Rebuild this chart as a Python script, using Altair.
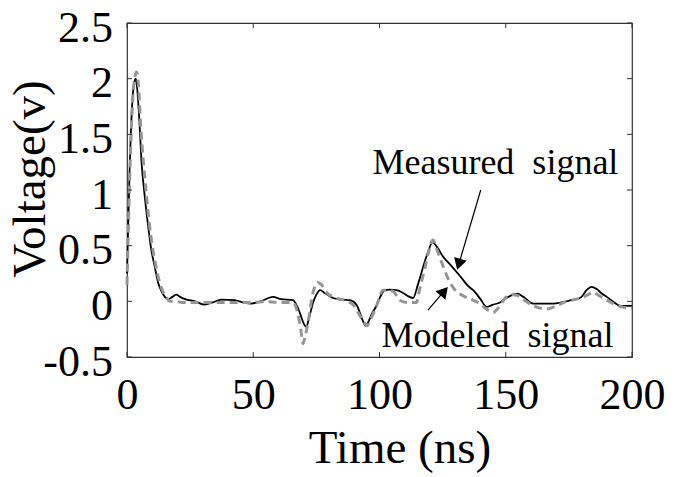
import altair as alt
import pandas as pd

# ---- data ----
meas_t = [0, 1, 2, 3, 3.5, 4, 5, 5.7, 7, 8.4, 9.5, 11, 12.3, 13.7, 15, 16.3, 18, 19.5, 21, 23,
          27, 30.7, 34, 37.3, 42.6, 46, 49.2, 53, 57.8, 61, 65.7, 67.5, 68.4, 70, 71, 72, 73.7,
          75, 76.5, 78, 81.6, 85, 88.2, 90.9, 92.2, 93.5, 94.5, 95.5, 96.8, 98.8, 100.5, 102.1,
          104, 106.7, 109, 111, 113.3, 115.2, 117.3, 119, 121, 123, 125.2, 128, 131.8, 135,
          137.1, 140, 142.4, 145, 147.7, 150.3, 152.9, 154.5, 157, 160.9, 165, 168.8, 172, 176,
          178.1, 180, 182, 184, 186, 188, 190, 193, 195.3, 198, 200]
meas_v = [0.25, 1.15, 1.75, 1.98, 2.0, 1.92, 1.58, 1.27, 0.95, 0.67, 0.48, 0.31, 0.17, 0.09, 0.04,
          0.02, 0.04, 0.06, 0.04, 0.02, 0.0, -0.03, -0.01, 0.015, 0.01, -0.01, -0.02, 0.0, 0.04,
          0.02, 0.01, -0.05, -0.10, -0.20, -0.23, -0.16, -0.01, 0.06, 0.10, 0.08, 0.03, 0.015,
          0.01, -0.03, -0.10, -0.18, -0.22, -0.19, -0.12, -0.04, 0.05, 0.10, 0.105, 0.10, 0.08,
          0.05, 0.03, 0.15, 0.31, 0.43, 0.53, 0.48, 0.40, 0.33, 0.23, 0.14, 0.10, 0.02, -0.05,
          -0.03, -0.01, 0.03, 0.06, 0.07, 0.04, -0.02, -0.02, -0.02, -0.01, 0.01, 0.02, 0.04,
          0.10, 0.13, 0.11, 0.07, 0.04, -0.01, -0.04, -0.04, -0.04]

model_t = [0, 1, 2, 3, 3.8, 4.5, 5.5, 6.3, 7.5, 8.8, 10, 11.5, 12.8, 14, 15.5, 17, 19, 22, 26,
           30, 35, 40, 45, 50, 55, 60, 65, 66.5, 68, 69, 69.7, 70.5, 71.7, 73.7, 75.6, 77, 79,
           83, 87.5, 90, 92, 93.5, 95, 96.5, 98.8, 101.4, 103, 105.4, 108, 111, 114.6, 116,
           117.9, 119.5, 121.2, 122.5, 124.6, 127.9, 130, 133.1, 136, 139.7, 142.4, 145, 147,
           150.3, 153, 155, 158, 162, 166.2, 170, 174, 178, 181, 184.7, 187, 190, 192.6, 196,
           199.2, 200]
model_v = [0.15, 1.05, 1.7, 2.0, 2.06, 1.95, 1.55, 1.3, 1.0, 0.7, 0.5, 0.31, 0.18, 0.10, 0.04,
           0.0, 0.0, -0.01, -0.01, -0.01, -0.01, -0.01, -0.01, -0.01, 0.0, -0.01, -0.01, -0.03,
           -0.15, -0.28, -0.38, -0.32, -0.19, 0.08, 0.17, 0.15, 0.08, 0.03, 0.0, -0.04, -0.12,
           -0.17, -0.22, -0.16, -0.04, 0.10, 0.10, 0.09, 0.01, -0.01, -0.01, 0.12, 0.29, 0.45,
           0.55, 0.48, 0.35, 0.17, 0.10, 0.05, 0.02, -0.02, -0.07, -0.10, -0.06, 0.04, 0.06,
           0.05, 0.0, -0.05, -0.07, -0.04, 0.0, 0.02, 0.04, 0.08, 0.05, 0.01, -0.02, -0.05,
           -0.06, -0.06]

x_ticks = [0, 50, 100, 150, 200]
y_ticks = [-0.5, 0, 0.5, 1, 1.5, 2, 2.5]

ann_text = ["Measured\u00a0\u00a0signal", "Modeled\u00a0\u00a0signal"]
ann_x = [145.9, 146.7]
ann_y = [1.143, -0.408]

arrow_x1 = [140.1, 119.2]
arrow_y1 = [1.0, -0.078]
arrow_x2 = [131.4, 125.6]
arrow_y2 = [0.333, 0.091]
arrow_angle = [196.5, 40.6]

# ---- chart ----
W, H = 505, 334
FONT = "Liberation Serif"

xs = alt.Scale(domain=[0, 200], nice=False, zero=False)
ys = alt.Scale(domain=[-0.5, 2.5], nice=False, zero=False)

meas_df = pd.DataFrame({"t": meas_t, "v": meas_v})
model_df = pd.DataFrame({"t": model_t, "v": model_v})

x_axis = alt.Axis(values=x_ticks, title="Time (ns)", labelExpr="'' + datum.value",
                  labelFont=FONT, labelFontSize=44, labelColor="black",
                  titleFont=FONT, titleFontSize=47, titleFontWeight="normal", titleColor="black",
                  ticks=False, domain=False, grid=False, labelPadding=16,
                  labelFlush=False, labelOverlap=False,
                  titleX=272.5, titleY=105, titleBaseline="alphabetic")
y_axis = alt.Axis(values=y_ticks, title="Voltage(v)", labelExpr="'' + datum.value",
                  labelFont=FONT, labelFontSize=44, labelColor="black",
                  titleFont=FONT, titleFontSize=47, titleFontWeight="normal", titleColor="black",
                  ticks=False, domain=False, grid=False, labelPadding=14.5, labelOffset=5,
                  labelFlush=False, labelOverlap=False, labelBaseline="middle",
                  titleX=-83, titleY=155.5, titleBaseline="alphabetic", titleAngle=270)


def X(field):
    return alt.X(field, scale=xs, axis=x_axis)


def Y(field):
    return alt.Y(field, scale=ys, axis=y_axis)


measured = alt.Chart(meas_df).mark_line(color="black", strokeWidth=1.8, interpolate="monotone").encode(
    x=X("t:Q"), y=Y("v:Q"),
)
modeled = alt.Chart(model_df).mark_line(color="#959595", strokeWidth=3, strokeDash=[8, 5],
                                         interpolate="monotone").encode(
    x=X("t:Q"), y=Y("v:Q"),
)

xt = pd.DataFrame({"x": x_ticks})
yt = pd.DataFrame({"y": y_ticks})
tick_style = dict(color="#333333", strokeWidth=1)
tb = alt.Chart(xt).mark_rule(**tick_style).encode(
    x=X("x:Q"), y=alt.value(H), y2=alt.value(H - 5))
tt = alt.Chart(xt).mark_rule(**tick_style).encode(
    x=X("x:Q"), y=alt.value(0), y2=alt.value(5))
tl = alt.Chart(yt).mark_rule(**tick_style).encode(
    y=Y("y:Q"), x=alt.value(0), x2=alt.value(5))
tr = alt.Chart(yt).mark_rule(**tick_style).encode(
    y=Y("y:Q"), x=alt.value(W), x2=alt.value(W - 5))

ann_df = pd.DataFrame({"text": ann_text, "x": ann_x, "y": ann_y})
texts = alt.Chart(ann_df).mark_text(font=FONT, fontSize=36, align="center",
                                    baseline="alphabetic", color="black").encode(
    x=X("x:Q"), y=Y("y:Q"), text="text:N",
)

arr_df = pd.DataFrame({"x1": arrow_x1, "y1": arrow_y1, "x2": arrow_x2, "y2": arrow_y2,
                       "ang": arrow_angle})
arr_lines = alt.Chart(arr_df).mark_rule(color="black", strokeWidth=1.2).encode(
    x=X("x1:Q"), y=Y("y1:Q"), x2="x2:Q", y2="y2:Q",
)
arr_heads = alt.Chart(arr_df).mark_point(shape="triangle-up", filled=True, color="black",
                                         size=170, opacity=1).encode(
    x=X("x2:Q"), y=Y("y2:Q"),
    angle=alt.Angle("ang:Q", scale=None),
)

chart = alt.layer(measured, modeled, tb, tt, tl, tr, texts, arr_lines, arr_heads).properties(
    width=W, height=H,
    autosize=alt.AutoSizeParams(type="none"),
    padding={"left": 127, "top": 23, "right": 44, "bottom": 120},
    background="white",
).configure_view(stroke="#333333", strokeWidth=1.2).configure_axis(grid=False)

chart.save("out.html", embed_options={"renderer": "svg", "actions": False})
